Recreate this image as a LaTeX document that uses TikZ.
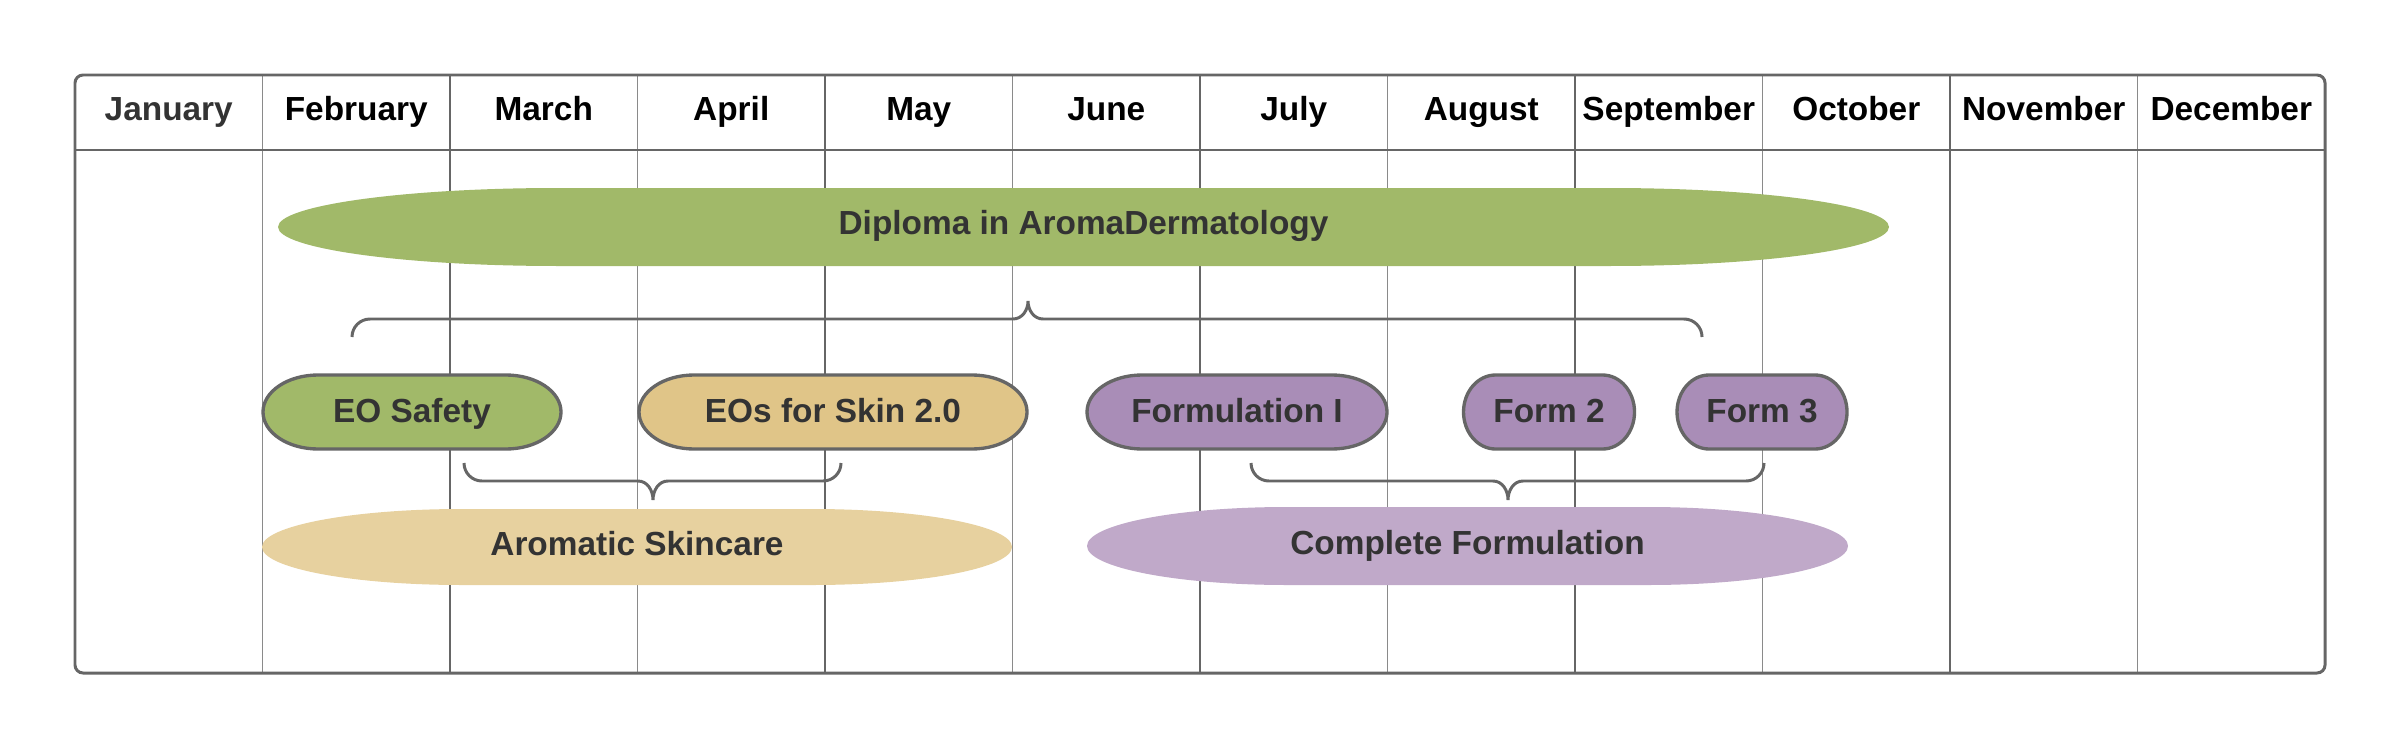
\documentclass[tikz,border=0pt]{standalone}
\usepackage{fontspec}
\setmainfont{Liberation Sans}
\usetikzlibrary{backgrounds}

\definecolor{linegray}{HTML}{666666}
\definecolor{lightgray}{HTML}{8A8A8A}
\definecolor{textgray}{HTML}{333333}
\definecolor{oilgreen}{HTML}{A1B969}
\definecolor{skintan}{HTML}{E0C588}
\definecolor{skinlight}{HTML}{E7D19F}
\definecolor{formpurple}{HTML}{A98DB7}
\definecolor{formlight}{HTML}{C0A9C9}

% filled outline with elliptical ends, drawn round a named node
\newcommand{\pillpath}[4]{%
  \path[#4] ([xshift=#2]#1.north west) -- ([xshift=-#2]#1.north east)
    arc[start angle=90, end angle=-90, x radius=#2, y radius=#3]
    -- ([xshift=#2]#1.south west)
    arc[start angle=270, end angle=90, x radius=#2, y radius=#3] -- cycle;}

\begin{document}
\begin{tikzpicture}[
	month/.style={font=\bfseries\fontsize{9.5}{11}\selectfont, inner sep=0pt, text height=0.72em, text depth=0pt},
	course/.style={font=\bfseries\fontsize{9.5}{11}\selectfont, text=textgray, inner sep=0pt, outer sep=0pt, text height=0.72em, text depth=0.15em},
	thickgrid/.style={draw=linegray, line width=0.6pt},
	thingrid/.style={draw=lightgray, line width=0.5pt},
	frame/.style={draw=linegray, line width=0.85pt},
	bracket/.style={draw=linegray, line width=0.85pt},
	outlined/.style={draw=linegray, line width=0.95pt, fill=#1}]
	\useasboundingbox (0,0) rectangle (24,7.5);

	\foreach \m/\c [count=\i from 0] in {January/textgray, February/black, March/black, April/black, May/black, June/black, July/black, August/black, September/black, October/black, November/black, December/black}
		\node[month, text=\c] (m\i) at ({0.75+1.875*(\i+0.5)}, 6.42) {\m};

	\node[course, text depth=0.3em, minimum width=16.11cm, minimum height=0.78cm] (diploma) at (10.835,5.23) {Diploma in AromaDermatology};

	\node[course, minimum width=2.98cm, minimum height=0.74cm] (safety) at (4.12,3.38) {EO Safety};
	\node[course, minimum width=3.88cm, minimum height=0.74cm] (skin) at (8.33,3.38) {EOs for Skin 2.0};
	\node[course, minimum width=3.00cm, minimum height=0.74cm] (form1) at (12.37,3.38) {Formulation I};
	\node[course, minimum width=1.71cm, minimum height=0.74cm] (form2) at (15.49,3.38) {Form 2};
	\node[course, minimum width=1.70cm, minimum height=0.74cm] (form3) at (17.62,3.38) {Form 3};

	\node[course, text depth=0.26em, minimum width=7.50cm, minimum height=0.76cm] (aromatic) at (6.37,2.03) {Aromatic Skincare};
	\node[course, text depth=0.23em, minimum width=7.61cm, minimum height=0.78cm] (complete) at (14.675,2.04) {Complete Formulation};

	% brace ends and tips
	\coordinate (topl) at (3.52,4.13);
	\coordinate (topr) at (17.02,4.13);
	\coordinate (topt) at (10.28,4.49);
	\coordinate (skl) at (4.64,2.87);
	\coordinate (skr) at (8.41,2.87);
	\coordinate (skt) at (6.53,2.50);
	\coordinate (fml) at (12.51,2.87);
	\coordinate (fmr) at (17.64,2.87);
	\coordinate (fmt) at (15.08,2.50);

	\draw[bracket] (topl) to[out=90,in=180] ([xshift=0.18cm,yshift=0.18cm]topl)
		-- ([xshift=-0.15cm,yshift=-0.18cm]topt) to[out=0,in=-90] (topt)
		to[out=-90,in=180] ([xshift=0.15cm,yshift=-0.18cm]topt)
		-- ([xshift=-0.18cm,yshift=0.18cm]topr) to[out=0,in=90] (topr);
	\draw[bracket] (skl) to[out=-90,in=180] ([xshift=0.18cm,yshift=-0.18cm]skl)
		-- ([xshift=-0.15cm,yshift=0.19cm]skt) to[out=0,in=90] (skt)
		to[out=90,in=180] ([xshift=0.15cm,yshift=0.19cm]skt)
		-- ([xshift=-0.18cm,yshift=-0.18cm]skr) to[out=0,in=-90] (skr);
	\draw[bracket] (fml) to[out=-90,in=180] ([xshift=0.18cm,yshift=-0.18cm]fml)
		-- ([xshift=-0.15cm,yshift=0.19cm]fmt) to[out=0,in=90] (fmt)
		to[out=90,in=180] ([xshift=0.15cm,yshift=0.19cm]fmt)
		-- ([xshift=-0.18cm,yshift=-0.18cm]fmr) to[out=0,in=-90] (fmr);

	\begin{pgfonlayer}{background}
		% month grid
		\foreach \i in {1,3,...,11}
			\draw[thingrid] ({0.75+1.875*\i},6.75) -- ({0.75+1.875*\i},0.77);
		\foreach \i in {2,4,...,10}
			\draw[thickgrid] ({0.75+1.875*\i},6.75) -- ({0.75+1.875*\i},0.77);
		\draw[frame] (0.75,6.0) -- (23.25,6.0);
		\draw[frame, rounded corners=0.08cm] (0.75,0.77) rectangle (23.25,6.75);

		\pillpath{diploma}{2.8cm}{0.39cm}{fill=oilgreen}
		\pillpath{aromatic}{2cm}{0.38cm}{fill=skinlight}
		\pillpath{complete}{2cm}{0.39cm}{fill=formlight}
		\pillpath{safety}{0.55cm}{0.37cm}{outlined=oilgreen}
		\pillpath{skin}{0.55cm}{0.37cm}{outlined=skintan}
		\pillpath{form1}{0.55cm}{0.37cm}{outlined=formpurple}
		\pillpath{form2}{0.32cm}{0.37cm}{outlined=formpurple}
		\pillpath{form3}{0.32cm}{0.37cm}{outlined=formpurple}
	\end{pgfonlayer}
\end{tikzpicture}
\end{document}
